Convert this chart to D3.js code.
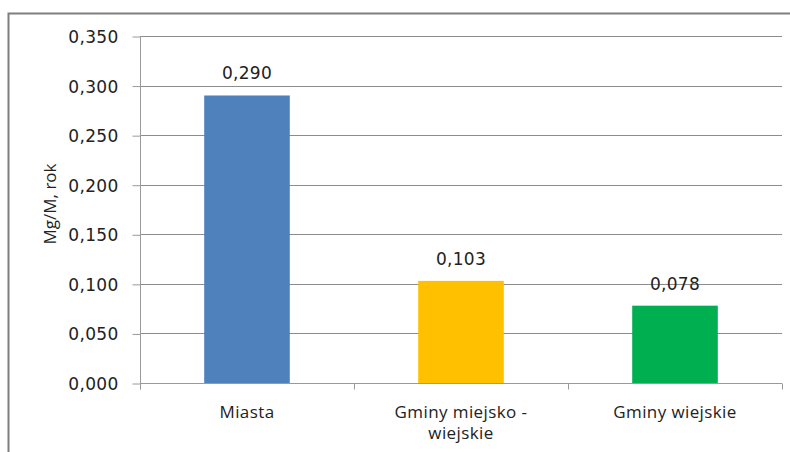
<!DOCTYPE html>
<html>
<head>
<meta charset="utf-8">
<script src="https://cdn.jsdelivr.net/npm/d3@7"></script>
<style>
  body { margin: 0; background: #fff; }
  svg { display: block; }
</style>
</head>
<body>
<svg id="chart"></svg>
<script>
var categories = ["Miasta", "Gminy miejsko - wiejskie", "Gminy wiejskie"];
var categoryLines = [["Miasta"], ["Gminy miejsko -", "wiejskie"], ["Gminy wiejskie"]];
var values = [0.290, 0.103, 0.078];
var barColors = ["#4f81bd", "#ffc000", "#00b050"];
var yTicks = [0, 0.05, 0.1, 0.15, 0.2, 0.25, 0.3, 0.35];
var yTitle = "Mg/M, rok";

var width = 790, height = 452;
var margin = { left: 140, right: 8, top: 36, bottom: 69 };

var svg = d3.select("#chart").attr("width", width).attr("height", height);

// outer frame (runs off the right and bottom edge)
svg.append("path")
    .attr("d", "M8.5,460 V13.5 H800")
    .attr("fill", "none")
    .attr("stroke", "#7f7f7f")
    .attr("stroke-width", 2);

var fmt = function (v) { return d3.format(".3f")(v).replace(".", ","); };

var x = d3.scaleBand().domain(categories)
    .range([margin.left, width - margin.right])
    .paddingInner(0.6).paddingOuter(0.3);
var x0 = d3.scalePoint().domain(d3.range(categories.length + 1))
    .range([margin.left, width - margin.right]);
var y = d3.scaleLinear().domain([0, 0.35])
    .range([height - margin.bottom, margin.top]);

// gridlines
svg.append("g").selectAll("line").data(yTicks.slice(1)).enter().append("line")
    .attr("x1", margin.left).attr("x2", width - margin.right)
    .attr("y1", function (d) { return Math.round(y(d)) + 0.5; })
    .attr("y2", function (d) { return Math.round(y(d)) + 0.5; })
    .attr("stroke", "#8c8c8c");

// y axis
var yAxis = svg.append("g")
    .attr("transform", "translate(" + (margin.left + 0.5) + ",0.5)")
    .call(d3.axisLeft(y).tickValues(yTicks).tickSize(8).tickFormat(fmt));
yAxis.select(".domain").attr("stroke", "#9a9a9a")
    .attr("d", "M0," + Math.round(y(0.35)) + "V" + (Math.round(y(0)) + 6));
yAxis.selectAll(".tick line").attr("stroke", "#9a9a9a");
yAxis.selectAll(".tick text")
    .attr("font-family", "DejaVu Sans, Verdana, sans-serif")
    .attr("font-size", 17).attr("fill", "#222")
    .attr("letter-spacing", 0.3).attr("x", -22).attr("dy", "0.35em");

// bars
svg.append("g").selectAll("rect").data(values).enter().append("rect")
    .attr("x", function (d, i) { return x(categories[i]); })
    .attr("width", x.bandwidth())
    .attr("y", function (d) { return y(d); })
    .attr("height", function (d) { return y(0) - y(d); })
    .attr("fill", function (d, i) { return barColors[i]; });

// x axis baseline and category ticks
var base = Math.round(y(0)) + 0.5;
svg.append("line")
    .attr("x1", margin.left).attr("x2", width - margin.right)
    .attr("y1", base).attr("y2", base)
    .attr("stroke", "#9a9a9a");
svg.append("g").selectAll("line").data(x0.domain()).enter().append("line")
    .attr("x1", function (d) { return Math.round(x0(d)) + 0.5; })
    .attr("x2", function (d) { return Math.round(x0(d)) + 0.5; })
    .attr("y1", base).attr("y2", base + 6)
    .attr("stroke", "#9a9a9a");

// data labels
svg.append("g").selectAll("text").data(values).enter().append("text")
    .attr("x", function (d, i) { return x(categories[i]) + x.bandwidth() / 2; })
    .attr("y", function (d) { return y(d) - 16; })
    .attr("text-anchor", "middle")
    .attr("font-family", "DejaVu Sans, Verdana, sans-serif")
    .attr("font-size", 17).attr("letter-spacing", 0.3).attr("fill", "#222")
    .text(fmt);

// category labels
var cat = svg.append("g").selectAll("text").data(categoryLines).enter().append("text")
    .attr("x", function (d, i) { return x(categories[i]) + x.bandwidth() / 2; })
    .attr("y", 418)
    .attr("text-anchor", "middle")
    .attr("font-family", "Open Sans, Lato, sans-serif")
    .attr("font-size", 17).attr("letter-spacing", 0.4).attr("fill", "#222");
cat.selectAll("tspan").data(function (d) { return d; }).enter().append("tspan")
    .attr("x", function () { return d3.select(this.parentNode).attr("x"); })
    .attr("dy", function (d, i) { return i ? 21 : 0; })
    .text(function (d) { return d; });

// y axis title
svg.append("text")
    .attr("transform", "translate(56,204) rotate(-90)")
    .attr("text-anchor", "middle")
    .attr("font-family", "Open Sans, Lato, sans-serif")
    .attr("font-size", 17).attr("fill", "#222")
    .text(yTitle);
</script>
</body>
</html>
